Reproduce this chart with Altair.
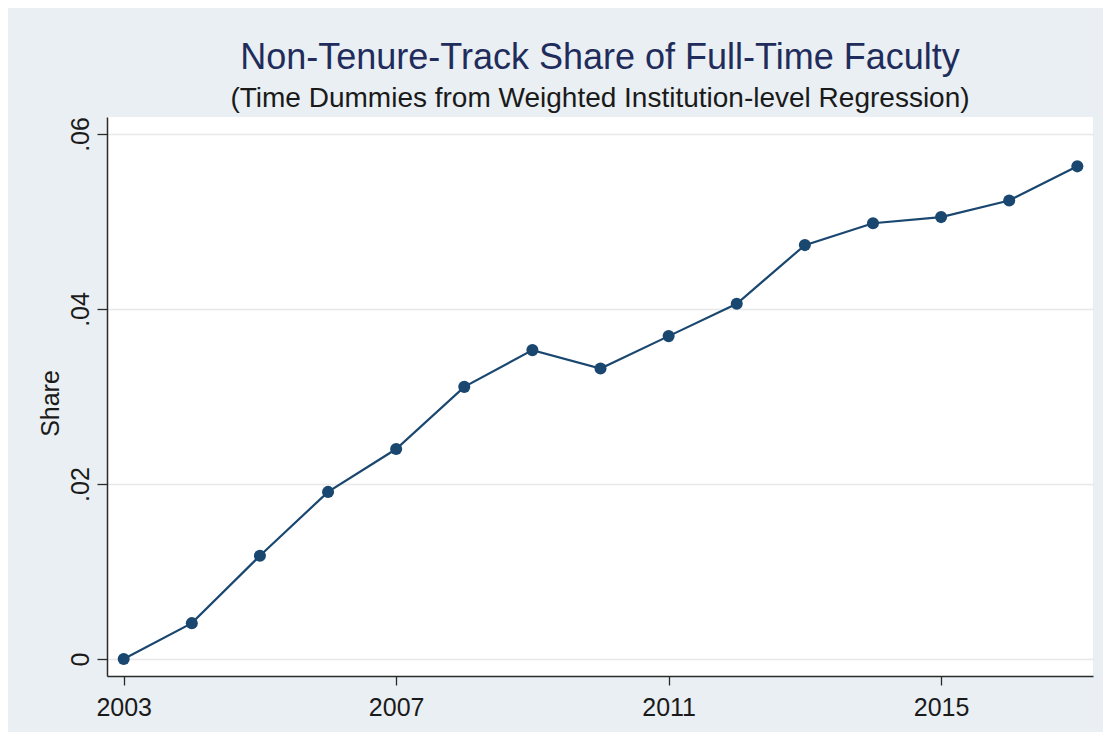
import altair as alt
import pandas as pd

years = [2003, 2004, 2005, 2006, 2007, 2008, 2009, 2010, 2011, 2012, 2013, 2014, 2015, 2016, 2017]
share = [0.0, 0.0041, 0.0118, 0.0191, 0.0240, 0.0311, 0.0353, 0.0332, 0.0369, 0.0406, 0.0473, 0.0498, 0.0505, 0.0524, 0.0563]
x_ticks = [2003, 2007, 2011, 2015]
y_ticks = [0.0, 0.02, 0.04, 0.06]

df = pd.DataFrame({"year": years, "share": share})

FONT = "Liberation Sans"
NAVY = "#1a476f"
AXIS = "#2b2b2b"

x = alt.X(
    "year:Q",
    scale=alt.Scale(domain=[2002.755, 2017.23], nice=False, zero=False),
    axis=alt.Axis(
        values=x_ticks, format="d", title=None, grid=False,
        domainColor=AXIS, domainWidth=1.5, tickColor=AXIS, tickWidth=1.3,
        tickSize=9, labelPadding=10, labelFontSize=25, labelColor="#1a1a1a",
        labelFont=FONT, labelBaseline="top", labelFlush=False,
    ),
)
y = alt.Y(
    "share:Q",
    scale=alt.Scale(domain=[-0.00194, 0.06194], nice=False, zero=False),
    axis=alt.Axis(
        values=y_ticks, title="Share", grid=True, gridColor="#e8e8e8", gridWidth=1.5,
        labelExpr="datum.value == 0 ? '0' : '.' + substring(format(datum.value, '.2f'), 2)",
        domainColor=AXIS, domainWidth=1.5, tickColor=AXIS, tickWidth=1.3,
        tickSize=10, labelPadding=9, labelFontSize=25, labelColor="#1a1a1a",
        labelFont=FONT, labelAngle=270, labelAlign="center", labelBaseline="alphabetic",
        labelFlush=False,
        titleFont=FONT, titleFontSize=25, titleFontWeight="normal", titleColor="#1a1a1a",
        titleAngle=270, titleAlign="center", titleBaseline="alphabetic",
        titleX=-49, titleY=286,
    ),
)

line = alt.Chart(df).mark_line(color=NAVY, strokeWidth=2.2).encode(x=x, y=y)
pts = alt.Chart(df).mark_circle(color=NAVY, size=145, opacity=1).encode(x=x, y=y)

chart = (
    alt.layer(line, pts)
    .properties(
        width=986,
        height=559,
        title=alt.TitleParams(
            text="Non-Tenure-Track Share of Full-Time Faculty",
            subtitle="(Time Dummies from Weighted Institution-level Regression)",
            font=FONT, fontSize=36, fontWeight="normal", color="#1f2c5c",
            subtitleFont=FONT, subtitleFontSize=28, subtitleColor="#1a1a1a",
            subtitlePadding=8, offset=3, anchor="middle",
        ),
        autosize=alt.AutoSizeParams(type="none"),
        padding={"left": 99, "top": 109, "right": 10, "bottom": 56},
        background="#e9eff2",
    )
    .configure_view(fill="white", stroke=None)
)

chart.save("out.html", embed_options={"renderer": "svg", "actions": False})
